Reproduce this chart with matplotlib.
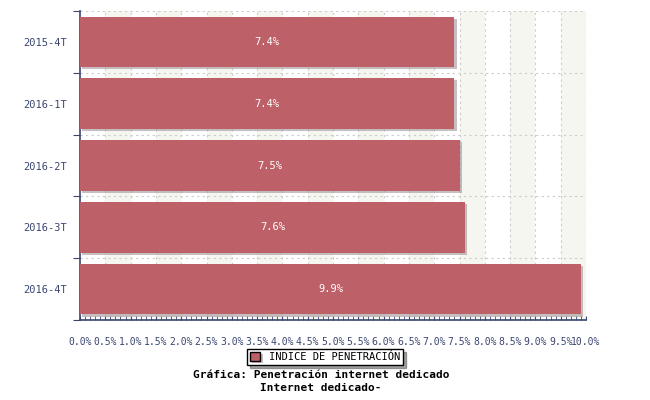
import numpy as np
import matplotlib.pyplot as plt
import matplotlib.patheffects as pe
from matplotlib.ticker import MultipleLocator

# --- Dados ---
periodos = ['2015-4T', '2016-1T', '2016-2T', '2016-3T', '2016-4T']
penetracion = [7.4, 7.4, 7.5, 7.6, 9.9]
serie = 'INDICE DE PENETRACIÓN'

cor_barra = '#bd6068'
cor_eixo = '#3a4670'
fonte = 'DejaVu Sans Mono'

fig = plt.figure(figsize=(6.5, 4), dpi=100)
ax = fig.add_axes([80 / 650, 80 / 400, 506 / 650, 309 / 400])

n = len(periodos)
ax.set_xlim(0, 10)
ax.set_ylim(n, 0)

# faixas alternadas de fundo
for x0 in np.arange(0.5, 10, 1.0):
    ax.axvspan(x0, x0 + 0.5, color='#f6f6f1', zorder=0, lw=0)

# grade tracejada
for x in np.arange(0.5, 10.01, 0.5):
    ax.axvline(x, color='#cccccc', lw=0.8, ls=(0, (2, 3)), zorder=1)
for y in range(0, n):
    ax.axhline(y, color='#cccccc', lw=0.8, ls=(0, (2, 3)), zorder=1)

y = np.arange(n) + 0.5
bars = ax.barh(y, penetracion, height=0.82, color=cor_barra, zorder=3,
               path_effects=[pe.SimplePatchShadow(offset=(1.5, -1.5), shadow_rgbFace='#a09498', alpha=0.6),
                             pe.Normal()])

for yi, v in zip(y, penetracion):
    ax.text(v / 2, yi, f'{v:.1f}%', color='white', ha='center', va='center',
            fontsize=7.5, family=fonte, zorder=4)

# eixos
ax.set_yticks(range(n + 1))
ax.set_yticks(y, minor=True)
ax.set_yticklabels([], minor=False)
ax.set_yticklabels(periodos, minor=True)
ax.tick_params(axis='y', which='major', length=5, color=cor_eixo, direction='out')
ax.tick_params(axis='y', which='minor', length=0, pad=9, labelsize=7.5, labelcolor=cor_eixo)

ax.xaxis.set_major_locator(MultipleLocator(0.5))
ax.xaxis.set_minor_locator(MultipleLocator(0.1))
ax.set_xticklabels([f'{v:.1f}%' for v in ax.get_xticks()])
ax.tick_params(axis='x', which='both', direction='in', length=3, color=cor_eixo,
               labelsize=7, labelcolor=cor_eixo, pad=12)

for lbl in ax.get_xticklabels() + ax.get_yticklabels(minor=True):
    lbl.set_family(fonte)

for s in ['top', 'right']:
    ax.spines[s].set_visible(False)
for s in ['left', 'bottom']:
    ax.spines[s].set_color(cor_eixo)
    ax.spines[s].set_linewidth(1.2)

leg = fig.legend([bars[0]], [serie], loc='center', bbox_to_anchor=(325 / 650, 1 - 357 / 400),
                 frameon=True, fancybox=False, shadow=True, handlelength=1.0, handleheight=1.0,
                 borderpad=0.3, prop={'family': fonte, 'size': 7.5})
leg.get_frame().set_edgecolor('black')
leg.get_patches()[0].set_edgecolor('black')

fig.text(321 / 650, 1 - 375 / 400, 'Gráfica: Penetración internet dedicado', ha='center', va='center',
         fontsize=8, family=fonte, fontweight='bold')
fig.text(321 / 650, 1 - 388 / 400, 'Internet dedicado-', ha='center', va='center',
         fontsize=8, family=fonte, fontweight='bold')

fig.savefig('out.png', dpi=100)
